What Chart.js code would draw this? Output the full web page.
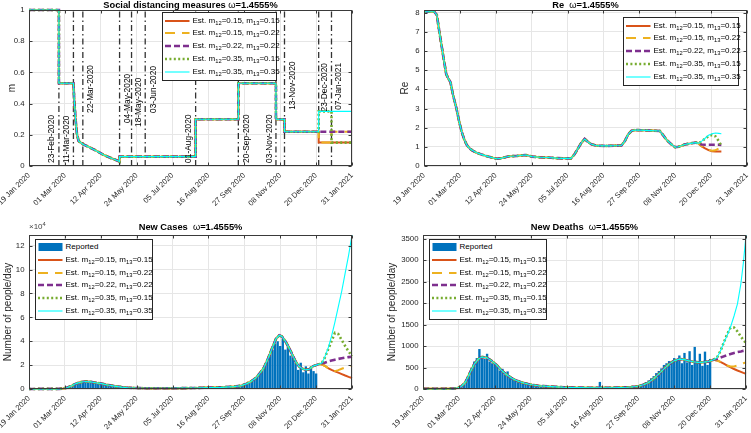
<!DOCTYPE html>
<html>
<head>
<meta charset="utf-8">
<script src="https://cdn.jsdelivr.net/npm/chart.js@4.4.0/dist/chart.umd.min.js"></script>
<style>
body { margin: 0; background: #fff; }
#wrap { position: relative; width: 751px; height: 433px; overflow: hidden; font-family: "Liberation Sans", Arial, sans-serif; color: #262626; }
canvas { position: absolute; }
.title { position: absolute; font-weight: bold; font-size: 9.3px; white-space: pre; transform: translateX(-50%); line-height: 10px; color: #000; }
.title span { font-weight: normal; }
.legend { position: absolute; background: #fff; border: 1px solid #262626; box-sizing: border-box; font-size: 8px; color: #000; }
.row { position: absolute; left: 0; width: 100%; height: 10px; white-space: nowrap; }
.row svg { position: absolute; left: 2px; top: 0; }
.row span { position: absolute; left: 29.5px; top: 0; line-height: 10px; }
sub { font-size: 5.8px; vertical-align: -2px; line-height: 0; }
.exp { position: absolute; font-size: 8px; color: #444; }
.exp sup { font-size: 5.8px; vertical-align: 3px; line-height: 0; }
</style>
</head>
<body>
<div id="wrap">
  <canvas id="cM" width="375" height="216" style="left:0;top:0"></canvas>
  <canvas id="cRe" width="376" height="216" style="left:375px;top:0"></canvas>
  <canvas id="cCases" width="375" height="217" style="left:0;top:216px"></canvas>
  <canvas id="cDeaths" width="376" height="217" style="left:375px;top:216px"></canvas>
  <div class="title" style="left:190.5px;top:0">Social distancing measures <span>ω</span>=1.4555%</div>
  <div class="title" style="left:585.5px;top:0">Re  <span>ω</span>=1.4555%</div>
  <div class="title" style="left:190.5px;top:222px">New Cases  <span>ω</span>=1.4555%</div>
  <div class="title" style="left:584.5px;top:222px">New Deaths  <span>ω</span>=1.4555%</div>
  <div class="exp" style="left:29px;top:222px">×10<sup>4</sup></div>
</div>
<script>
// ---- data ----
const startDate = Date.UTC(2020, 0, 19);   // day 0
const xMax = 378;
const xTickStep = 42;
const MON = ['Jan','Feb','Mar','Apr','May','Jun','Jul','Aug','Sep','Oct','Nov','Dec'];

// y tick values
const mTicks = [0, 0.2, 0.4, 0.6, 0.8, 1];
const reTicks = [0, 1, 2, 3, 4, 5, 6, 7, 8];
const casesTicks = [0, 2, 4, 6, 8, 10, 12];
const deathsTicks = [0, 500, 1000, 1500, 2000, 2500, 3000, 3500];

// scenario parameters (legend order)
const m12 = [0.15, 0.15, 0.22, 0.35, 0.35];
const m13 = [0.15, 0.22, 0.22, 0.15, 0.35];

// measures dates (vertical dash-dot lines)
const eventLabels = ['23-Feb-2020','11-Mar-2020','22-Mar-2020','04-May-2020','18-May-2020','03-Jun-2020',
                     '01-Aug-2020','20-Sep-2020','03-Nov-2020','13-Nov-2020','23-Dec-2020','07-Jan-2021'];

// social distancing m, common part (days since 19 Jan 2020)
const mDays   = [0, 35, 35, 52, 53, 54.5, 56, 58, 63, 70, 78, 87, 95, 101, 106, 106, 195, 195, 245, 245, 289, 289, 299, 299, 339];
const mShared = [1, 1, 0.53, 0.53, 0.42, 0.3, 0.21, 0.16, 0.14, 0.122, 0.1, 0.072, 0.053, 0.04, 0.029, 0.06, 0.06, 0.30, 0.30, 0.53, 0.53, 0.30, 0.30, 0.22, 0.22];

// Re
const reDays = [0, 12, 15, 18, 20.5, 23, 26, 28, 31, 34, 38, 41, 44, 47, 50, 53, 56, 61, 66, 75,
                85, 90, 95, 100, 108, 118, 122, 126, 135, 145, 155, 163, 172, 176, 180, 184, 188, 192, 196, 202,
                215, 231, 235, 239, 243, 247, 260, 276, 280, 284, 289, 294, 298, 305, 312, 318, 321];
const reShared = [8.05, 8.05, 7.88, 7.0, 6.3, 5.6, 4.8, 4.6, 4.37, 3.7, 3.0, 2.35, 1.8, 1.4, 1.1, 0.94, 0.83, 0.7, 0.62, 0.49,
                  0.38, 0.4, 0.46, 0.51, 0.52, 0.57, 0.55, 0.49, 0.46, 0.44, 0.41, 0.4, 0.4, 0.6, 0.9, 1.2, 1.41, 1.25, 1.13, 1.06,
                  1.05, 1.07, 1.3, 1.65, 1.84, 1.88, 1.86, 1.83, 1.6, 1.36, 1.15, 0.98, 1.0, 1.12, 1.18, 1.22, 1.18];
const reBranchDays = [325, 329, 333, 337, 341, 345, 348];
const reBranches = [
  [1.02, 0.92, 0.83, 0.77, 0.76, 0.76, 0.76],
  [1.03, 0.93, 0.85, 0.80, 0.82, 0.92, 1.02],
  [1.12, 1.11, 1.11, 1.11, 1.11, 1.11, 1.10],
  [1.28, 1.43, 1.56, 1.62, 1.55, 1.30, 1.05],
  [1.30, 1.45, 1.60, 1.68, 1.72, 1.70, 1.68]
];

// new cases, in units of 10^4
const casesDays = [0, 35, 40, 45, 50, 55, 60, 66, 72, 78, 85, 92, 100, 108, 116, 125, 140, 160, 180, 195,
                   210, 225, 240, 248, 255, 260, 265, 270, 275, 280, 285, 289, 293, 296, 300, 304, 308, 312, 316, 320,
                   324, 328, 332, 336, 340];
const casesShared = [0.005, 0.01, 0.04, 0.12, 0.27, 0.45, 0.57, 0.63, 0.6, 0.53, 0.45, 0.34, 0.24, 0.16, 0.11, 0.08, 0.06, 0.06, 0.07, 0.09,
                     0.12, 0.14, 0.2, 0.27, 0.45, 0.65, 0.9, 1.3, 1.8, 2.6, 3.5, 4.2, 4.5, 4.4, 4.0, 3.5, 2.9, 2.3, 1.9, 1.7,
                     1.6, 1.65, 1.9, 2.0, 2.1];
const casesBranchDays = [343, 346, 350, 354, 358, 362, 366, 370, 374, 378];
const casesBranches = [
  [2.05, 1.95, 1.75, 1.60, 1.48, 1.37, 1.25, 1.13, 1.02, 0.92],
  [2.05, 1.95, 1.75, 1.55, 1.50, 1.58, 1.70, 1.80, 1.88, 1.95],
  [2.15, 2.20, 2.30, 2.38, 2.45, 2.52, 2.58, 2.63, 2.67, 2.70],
  [2.20, 2.60, 3.30, 4.00, 4.70, 4.60, 4.10, 3.60, 3.15, 2.75],
  [2.20, 2.65, 3.40, 4.40, 5.60, 6.90, 8.20, 9.70, 11.2, 12.9]
];
// reported cases every 3 days from day 36 (x10^4)
const reportedFirstDay = 36, reportedStep = 3;
const casesReported = [0.01, 0.02, 0.04, 0.1, 0.2, 0.32, 0.45, 0.52, 0.6, 0.57, 0.63, 0.6, 0.55, 0.58, 0.5, 0.5, 0.44, 0.42, 0.35, 0.33,
  0.27, 0.25, 0.19, 0.17, 0.14, 0.13, 0.11, 0.1, 0.09, 0.08, 0.08, 0.07, 0.07, 0.06, 0.06, 0.06, 0.05, 0.05, 0.05, 0.05,
  0.05, 0.06, 0.06, 0.06, 0.06, 0.07, 0.07, 0.07, 0.08, 0.08, 0.09, 0.09, 0.1, 0.1, 0.11, 0.11, 0.12, 0.12, 0.12, 0.12,
  0.13, 0.13, 0.14, 0.14, 0.15, 0.16, 0.17, 0.19, 0.2, 0.23, 0.27, 0.32, 0.38, 0.45, 0.58, 0.72, 0.9, 1.1, 1.35, 1.6,
  1.95, 2.4, 2.9, 3.3, 3.8, 4.0, 3.6, 4.2, 3.3, 3.7, 2.8, 2.6, 2.2, 1.6, 2.2, 1.4, 1.9, 1.3, 1.9, 1.5, 1.3];

// new deaths
const deathsDays = [0, 35, 40, 45, 50, 55, 60, 65, 69, 74, 80, 86, 92, 98, 104, 110, 116, 125, 135, 150,
                    165, 180, 200, 220, 240, 250, 258, 264, 270, 276, 282, 288, 294, 300, 305, 310, 316, 322, 328, 334, 340];
const deathsShared = [5, 8, 20, 60, 170, 380, 580, 700, 745, 735, 660, 560, 430, 330, 250, 190, 150, 105, 75, 55,
                      40, 32, 30, 30, 40, 60, 100, 150, 240, 350, 470, 580, 660, 695, 690, 660, 635, 620, 625, 640, 680];
const deathsBranchDays = [344, 348, 352, 356, 360, 364, 368, 372, 375, 378];
const deathsBranches = [
  [665, 630, 590, 545, 505, 465, 430, 400, 375, 355],
  [665, 630, 590, 545, 525, 525, 545, 575, 600, 620],
  [700, 730, 760, 790, 815, 840, 860, 875, 888, 898],
  [730, 880, 1080, 1280, 1430, 1430, 1340, 1220, 1140, 1070],
  [730, 880, 1080, 1250, 1450, 1700, 1980, 2450, 2950, 3585]
];
const deathsReported = [3, 8, 20, 45, 110, 230, 360, 500, 640, 720, 930, 760, 700, 820, 640, 600, 590, 520, 430, 470,
  330, 410, 270, 240, 200, 190, 160, 150, 120, 110, 95, 90, 75, 70, 65, 60, 55, 50, 45, 45,
  40, 40, 35, 35, 32, 30, 30, 28, 28, 26, 26, 25, 25, 25, 24, 25, 26, 165, 26, 25,
  25, 26, 27, 28, 30, 32, 35, 38, 42, 48, 55, 65, 80, 100, 125, 160, 200, 250, 300, 370,
  420, 480, 560, 600, 650, 610, 720, 690, 780, 600, 840, 620, 880, 560, 980, 640, 820, 540, 870, 560, 700];

// ---- helpers / styles ----
const FONT = '"Liberation Sans", Arial, sans-serif';
Chart.defaults.font.family = FONT;
Chart.defaults.color = '#262626';

const seriesStyle = [
  { color: '#D95319', width: 2,   dash: [] },
  { color: '#EDB120', width: 2,   dash: [10, 7] },
  { color: '#7E2F8E', width: 2.6, dash: [6, 3] },
  { color: '#77AC30', width: 2.6, dash: [2, 2.4] },
  { color: '#00FFFF', width: 1.1, dash: [] }
];
const barColor = '#0072BD';

function dayLabel(v) {
  const d = new Date(startDate + v * 864e5);
  return String(d.getUTCDate()).padStart(2, '0') + ' ' + MON[d.getUTCMonth()] + ' ' + d.getUTCFullYear();
}
function dayOf(s) {
  const p = s.split('-');
  return Math.round((Date.UTC(+p[2], MON.indexOf(p[1]), +p[0]) - startDate) / 864e5);
}
function pts(xs, ys) { return xs.map((x, i) => ({ x: x, y: ys[i] })); }

const eventDays = eventLabels.map(dayOf);
// label placement: [pixel offset from line, y start in m units]
const eventLabelPlace = [[-7, 0.02], [-7, 0.02], [8, 0.34], [8, 0.275], [7, 0.25], [8, 0.34],
                         [-7, 0.02], [8, 0.02], [-6, 0.02], [8, 0.36], [6, 0.35], [7, 0.36]];

function lineSet(data, i) {
  const s = seriesStyle[i];
  return {
    type: 'line', data: data, borderColor: s.color, borderWidth: s.width, borderDash: s.dash,
    pointRadius: 0, tension: 0, fill: false, order: 5 - i, clip: 3
  };
}

const boxPlugin = {
  id: 'box',
  afterDatasetsDraw(chart) {
    const { ctx, chartArea: a, scales } = chart;
    const L = Math.round(a.left) + 0.5, R = Math.round(a.right) - 0.5;
    const T = Math.round(a.top) + 0.5, B = Math.round(a.bottom) - 0.5;
    ctx.save();
    ctx.strokeStyle = '#3a3a3a';
    ctx.lineWidth = 1;
    ctx.strokeRect(L, T, R - L, B - T);
    ctx.beginPath();
    scales.x.ticks.forEach(t => {
      const px = Math.round(scales.x.getPixelForValue(t.value)) + 0.5;
      ctx.moveTo(px, B); ctx.lineTo(px, B - 3);
      ctx.moveTo(px, T); ctx.lineTo(px, T + 3);
    });
    scales.y.ticks.forEach(t => {
      const py = Math.round(scales.y.getPixelForValue(t.value)) + 0.5;
      ctx.moveTo(L, py); ctx.lineTo(L + 3, py);
      ctx.moveTo(R, py); ctx.lineTo(R - 3, py);
    });
    ctx.stroke();
    ctx.restore();
  }
};

const eventTextPlugin = {
  id: 'eventText',
  afterDatasetsDraw(chart) {
    const { ctx, scales: { x, y } } = chart;
    ctx.save();
    ctx.font = '8.4px ' + FONT;
    ctx.fillStyle = '#000';
    ctx.textBaseline = 'middle';
    ctx.textAlign = 'left';
    eventLabels.forEach((s, i) => {
      const p = eventLabelPlace[i];
      ctx.save();
      ctx.translate(x.getPixelForValue(eventDays[i]) + p[0], y.getPixelForValue(p[1]));
      ctx.rotate(-Math.PI / 2);
      ctx.fillText(s, 0, 0);
      ctx.restore();
    });
    ctx.restore();
  }
};

function xScale(h) {
  return {
    type: 'linear', min: 0, max: xMax, offset: false,
    grid: { color: '#e6e6e6', drawTicks: false, offset: false },
    border: { display: false },
    ticks: { stepSize: xTickStep, autoSkip: false, minRotation: 45, maxRotation: 45, padding: 5,
             font: { size: 7.6 }, color: '#262626', callback: v => dayLabel(v) },
    afterFit: s => { s.height = h; s.paddingLeft = 0; s.paddingRight = 0; }
  };
}
function yScale(w, max, tickVals, title, titlePad) {
  return {
    min: 0, max: max,
    grid: { color: '#e6e6e6', drawTicks: false },
    border: { display: false },
    ticks: { autoSkip: false, padding: 4.5, font: { size: 7.8 }, color: '#262626', callback: v => String(v) },
    afterBuildTicks: s => { s.ticks = tickVals.map(v => ({ value: v })); },
    title: { display: true, text: title, font: { size: 10 }, color: '#262626', padding: { top: titlePad, bottom: 0 } },
    afterFit: s => { s.width = w; s.paddingTop = 0; s.paddingBottom = 0; }
  };
}
function baseOptions(pad, yW, xH, yMax, yTicks, yTitle, titlePad) {
  return {
    responsive: false, animation: false, events: [],
    layout: { padding: pad, autoPadding: false },
    plugins: { legend: { display: false }, title: { display: false }, tooltip: { enabled: false } },
    scales: { x: xScale(xH), y: yScale(yW, yMax, yTicks, yTitle, titlePad) }
  };
}

// ---- social distancing m ----
const mBranchStart = dayOf('23-Dec-2020'), mBranch2 = dayOf('07-Jan-2021');
const mSets = m12.map((v, i) => lineSet(
  pts(mDays, mShared).concat(pts([mBranchStart, mBranch2, mBranch2, xMax], [m12[i], m12[i], m13[i], m13[i]])), i));
const evData = [];
eventDays.forEach(d => { evData.push({ x: d, y: 0 }, { x: d, y: 1 }, { x: d, y: null }); });
mSets.push({ type: 'line', data: evData, borderColor: '#333', borderWidth: 1.3, borderDash: [6, 3, 1.5, 3],
             pointRadius: 0, spanGaps: false, order: 10 });
new Chart(document.getElementById('cM'), {
  type: 'line', data: { datasets: mSets },
  options: baseOptions({ left: 0, top: 10, right: 23, bottom: 0 }, 29, 50, 1, mTicks, 'm', 6),
  plugins: [eventTextPlugin, boxPlugin]
});

// ---- Re ----
new Chart(document.getElementById('cRe'), {
  type: 'line',
  data: { datasets: reBranches.map((b, i) => lineSet(pts(reDays, reShared).concat(pts(reBranchDays, b)), i)) },
  options: baseOptions({ left: 0, top: 10, right: 4, bottom: 0 }, 49, 50, 8.14, reTicks, 'Re', 24),
  plugins: [boxPlugin]
});

// ---- reported bars ----
function barSet(vals) {
  return {
    type: 'bar', data: vals.map((v, k) => ({ x: reportedFirstDay + k * reportedStep, y: v })),
    backgroundColor: barColor, borderWidth: 0, barPercentage: 0.92, categoryPercentage: 1, order: 10
  };
}

// ---- new cases ----
new Chart(document.getElementById('cCases'), {
  type: 'bar',
  data: { datasets: [barSet(casesReported)].concat(
    casesBranches.map((b, i) => lineSet(pts(casesDays, casesShared).concat(pts(casesBranchDays, b)), i))) },
  options: baseOptions({ left: 0, top: 19, right: 23, bottom: 0 }, 29, 44, 12.9, casesTicks, 'Number of people/day', 2),
  plugins: [boxPlugin]
});

// ---- new deaths ----
new Chart(document.getElementById('cDeaths'), {
  type: 'bar',
  data: { datasets: [barSet(deathsReported)].concat(
    deathsBranches.map((b, i) => lineSet(pts(deathsDays, deathsShared).concat(pts(deathsBranchDays, b)), i))) },
  options: baseOptions({ left: 0, top: 19, right: 5, bottom: 0 }, 48, 44, 3585, deathsTicks, 'Number of people/day', 11),
  plugins: [boxPlugin]
});

// ---- legends (html, for subscripts) ----
function legend(left, top, w, h, withBars, firstRow) {
  const box = document.createElement('div');
  box.className = 'legend';
  box.style.cssText = 'left:' + left + 'px;top:' + top + 'px;width:' + w + 'px;height:' + h + 'px';
  const rows = [];
  if (withBars) rows.push({ bar: true, html: 'Reported' });
  m12.forEach((v, i) => rows.push({ style: seriesStyle[i], html: 'Est. m<sub>12</sub>=' + m12[i] + ', m<sub>13</sub>=' + m13[i] }));
  rows.forEach((r, k) => {
    const row = document.createElement('div');
    row.className = 'row';
    row.style.top = (firstRow + k * 12.8 - 5 - 1) + 'px';
    let svg;
    if (r.bar) {
      svg = '<svg width="25" height="10"><rect x="0.5" y="1" width="24" height="8" fill="' + barColor + '"/></svg>';
    } else {
      const s = r.style;
      svg = '<svg width="25" height="10"><line x1="0" y1="5" x2="24.5" y2="5" stroke="' + s.color + '" stroke-width="' + s.width +
            '" stroke-dasharray="' + (s.dash.length ? s.dash.join(',') : 'none') + '"/></svg>';
    }
    row.innerHTML = svg + '<span>' + r.html + '</span>';
    box.appendChild(row);
  });
  document.getElementById('wrap').appendChild(box);
}
legend(162, 12, 115, 69, false, 8.5);
legend(623, 17, 116, 69, false, 8.5);
legend(35, 239, 118, 81, true, 8);
legend(429, 239, 118, 81, true, 8);
</script>
</body>
</html>
